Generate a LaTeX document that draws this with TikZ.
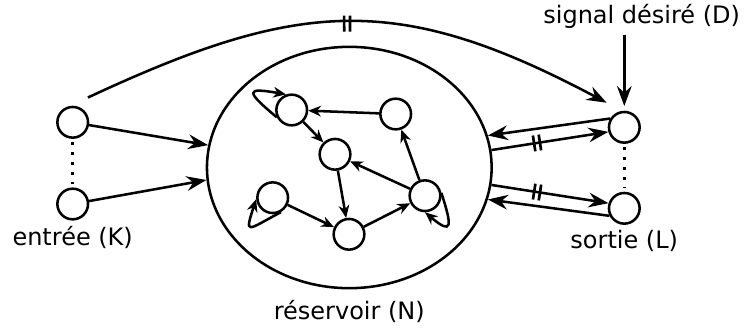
\documentclass[tikz,border=0pt]{standalone}
\usepackage{fontspec}
\setmainfont{DejaVu Sans}
\usepackage{tikz}
\usetikzlibrary{arrows.meta,shapes.geometric,decorations.markings}

\begin{document}
\begin{tikzpicture}[x=0.75pt,y=-0.75pt,line width=1.9pt,
    >={Stealth[length=15pt,width=11pt,inset=5pt]},
    font=\fontsize{18}{21}\selectfont,
    unit/.style={circle,draw,minimum size=23pt,inner sep=0pt},
    link/.style={-{Stealth[length=9.5pt,width=8pt,inset=3pt]}},
    dotline/.style={line width=2.4pt,dash pattern=on 2.4pt off 5.1pt,shorten <=2.5pt,shorten >=2.5pt},
    cut/.style={postaction={decorate,decoration={markings,
      mark=at position #1 with {\draw[-,line width=2pt,shorten <=0pt,shorten >=0pt] (-2.2pt,-6pt)--(-2.2pt,6pt) (2.2pt,-6pt)--(2.2pt,6pt);}}}}]
  \useasboundingbox (0,0) rectangle (744,329);
  \node[ellipse,draw,minimum width=213.5pt,minimum height=181pt,inner sep=0pt,label={[label distance=4pt]below:réservoir (N)}] (res) at (349.3,167.5) {};
  \node[unit] (r1) at (291.7,110) {};
  \node[unit] (r2) at (395.7,114) {};
  \node[unit] (r3) at (335,154.3) {};
  \node[unit] (r4) at (272.7,197.7) {};
  \node[unit] (r5) at (349,234.3) {};
  \node[unit] (r6) at (425,195.7) {};
  \node[unit] (k1) at (72.7,122.3) {};
  \node[unit,label={below:entrée (K)}] (k2) at (72.7,204) {};
  \node[unit] (l1) at (624.3,127.3) {};
  \node[unit,label={below:sortie (L)}] (l2) at (624.3,208.3) {};
  \node (sig) at (641.7,16.7) {signal désiré (D)};
  \draw[dotline] (k1) -- (k2);
  \draw[dotline] (l1) -- (l2);
  \draw[->] (k1) -- (res.171);
  \draw[->] (k2) -- (res.185);
  \draw[->] (l1.148) -- (res.13);
  \draw[->,cut=0.39] (res.7) -- (l1.196);
  \draw[->,cut=0.39] (res.-7) -- (l2.162);
  \draw[->] (l2.207) -- (res.-13);
  \draw[->,shorten >=3.5pt] (sig.south -| l1) -- (l1);
  \draw[->,cut=0.5,shorten <=15pt,shorten >=13pt] (k1.100) to[out=25,in=152,distance=190pt] (l1.98);
  \draw[link] (r2) -- (r1);
  \draw[link] (r1) -- (r3);
  \draw[link] (r6) -- (r3);
  \draw[link] (r3) -- (r5);
  \draw[link] (r4) -- (r5);
  \draw[link] (r5) -- (r6);
  \draw[link] (r6) -- (r2);
  \draw[link] (r1.206) to[out=140,in=170,distance=31pt] (r1.110);
  \draw[link] (r4.-60) to[out=208,in=252,distance=29pt] (r4.185);
  \draw[link] (r6.10) to[out=-72,in=-40,distance=27pt] (r6.-90);
\end{tikzpicture}
\end{document}
